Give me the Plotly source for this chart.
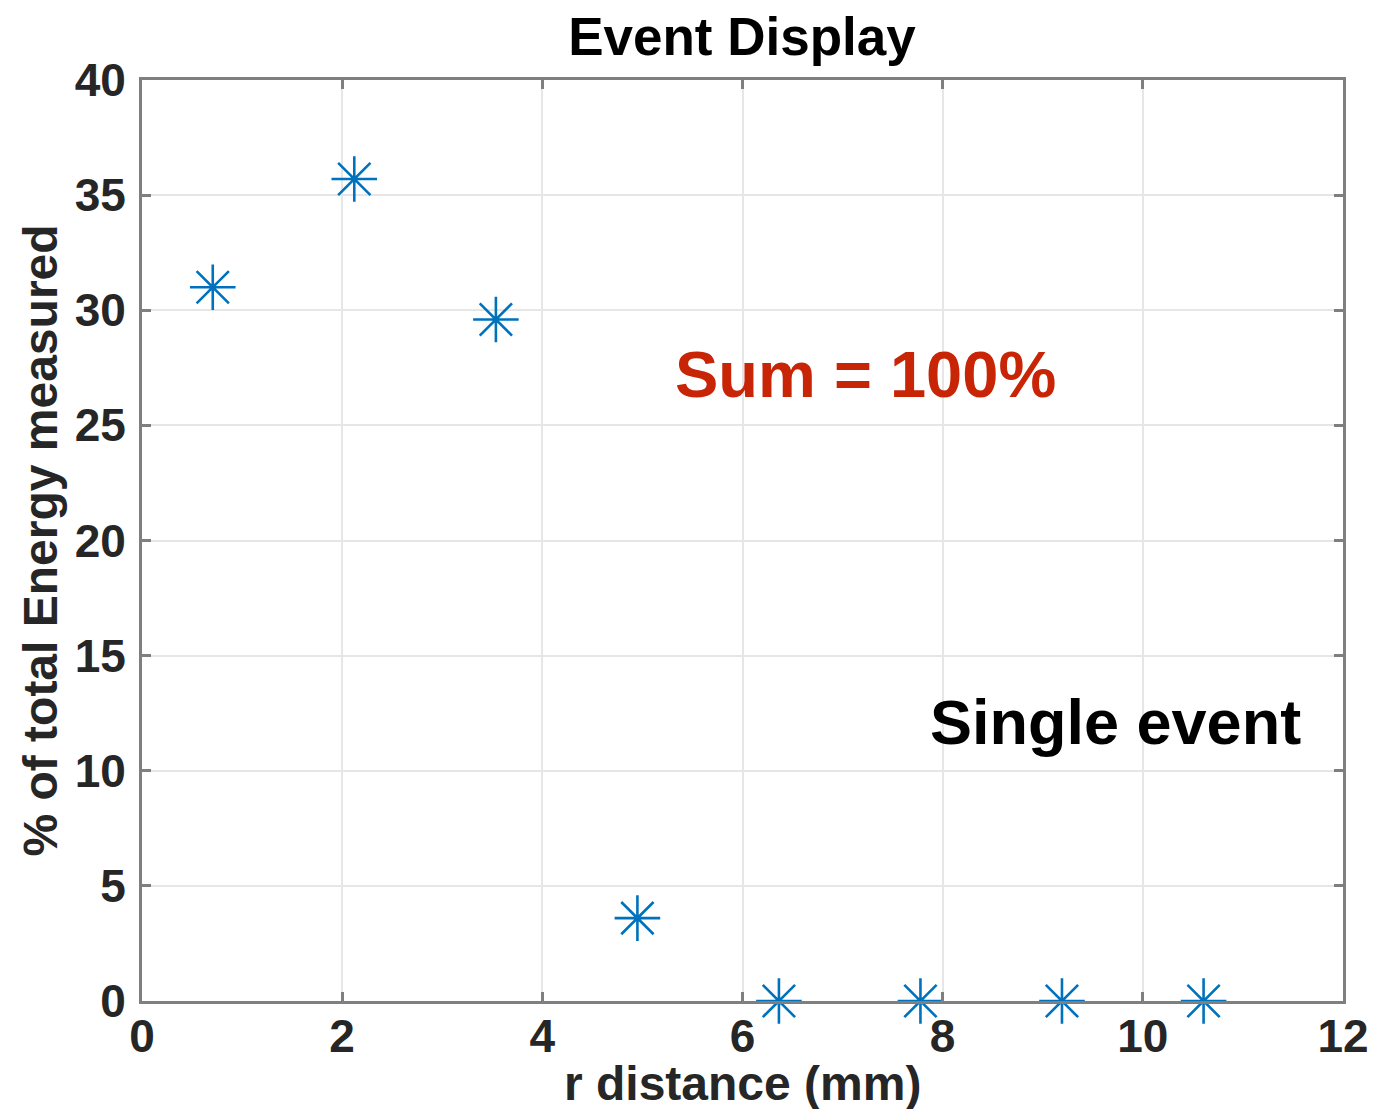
import plotly.graph_objects as go

r_mm = [0.707, 2.121, 3.536, 4.950, 6.364, 7.778, 9.192, 10.607]
energy_pct = [31.0, 35.7, 29.6, 3.6, 0.0, 0.0, 0.0, 0.0]
x_ticks = [0, 2, 4, 6, 8, 10, 12]
y_ticks = [0, 5, 10, 15, 20, 25, 30, 35, 40]

FONT = "Liberation Sans"
AX = "#262626"

fig = go.Figure()
fig.add_trace(go.Scatter(
    x=r_mm, y=energy_pct, mode="markers", cliponaxis=False,
    marker=dict(symbol="asterisk-open", size=38, color="#0072BD",
                line=dict(width=2.6, color="#0072BD")),
    showlegend=False,
))

axis_common = dict(
    showline=True, linecolor="#7f7f7f", linewidth=3, mirror="ticks",
    ticks="inside", ticklen=9, tickwidth=3, tickcolor="#7f7f7f",
    showgrid=True, gridcolor="#e6e6e6", gridwidth=2, zeroline=False,
    automargin=False,
    tickfont=dict(family=FONT, size=46, color=AX, weight="bold"),
)

fig.update_layout(
    width=1394, height=1109,
    margin=dict(l=134, r=59, t=72, b=116, autoexpand=False),
    paper_bgcolor="white", plot_bgcolor="white",
    xaxis=dict(range=[0, 12], tickvals=x_ticks, ticklabelstandoff=-7,
               **axis_common),
    yaxis=dict(range=[0, 40], tickvals=y_ticks, ticklabelstandoff=4,
               title=dict(text="% of total Energy measured", standoff=2,
                          font=dict(family=FONT, size=48, color=AX, weight="bold")),
               **axis_common),
    title=dict(text="Event Display", x=0.5265, xanchor="center", y=0.974, yanchor="middle",
               font=dict(family=FONT, size=53, color="black", weight="bold")),
    annotations=[
        dict(x=0.5, y=0, xref="paper", yref="paper", xanchor="center", yanchor="middle",
             yshift=-82, text="r distance (mm)", showarrow=False,
             font=dict(family=FONT, size=48, color=AX, weight="bold")),
        dict(x=7.23, y=27.2, xref="x", yref="y", text="Sum = 100%", showarrow=False,
             font=dict(family=FONT, size=65, color="#C82506", weight="bold")),
        dict(x=9.73, y=12.1, xref="x", yref="y", text="Single event", showarrow=False,
             font=dict(family=FONT, size=63, color="black", weight="bold")),
    ],
)

fig.write_html("out.html")
